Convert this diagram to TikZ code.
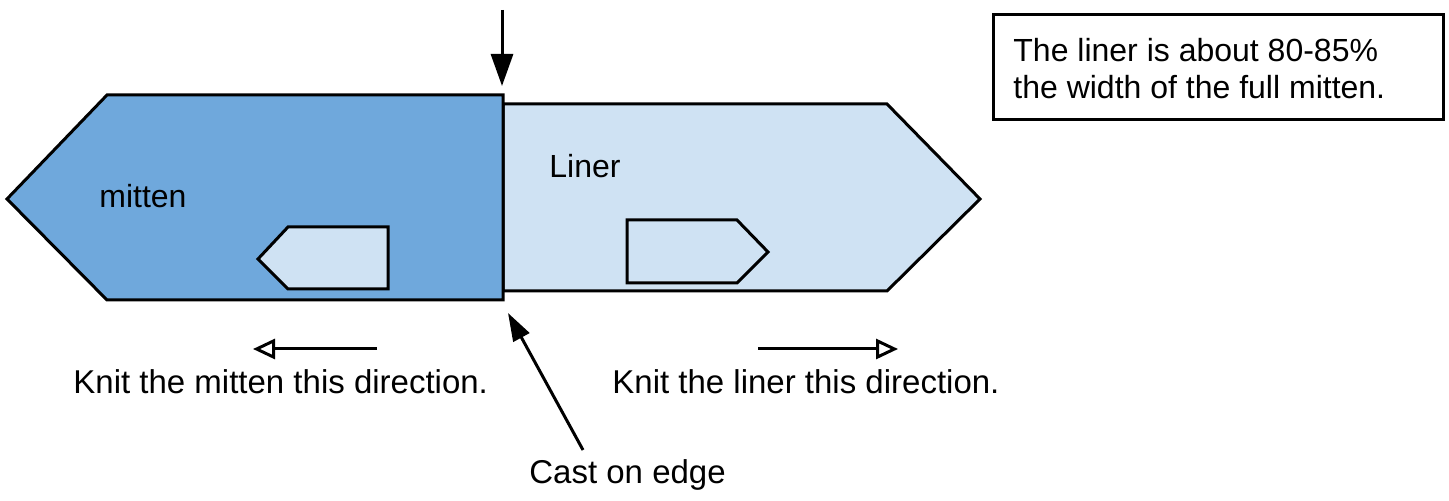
\documentclass[tikz,border=0pt]{standalone}
\usepackage{fontspec}
\setmainfont{Liberation Sans}
\usetikzlibrary{arrows.meta}
\definecolor{mittenblue}{HTML}{6FA8DC}
\definecolor{linerblue}{HTML}{CFE2F3}
\tikzset{
  font={\fontsize{16pt}{18.5pt}\selectfont}}

\begin{document}
\begin{tikzpicture}[x=0.5pt,y=-0.5pt]
\tikzstyle{every node}+=[inner sep=0pt]
\tikzstyle{outline}=[draw=black,line width=1.5pt,line join=miter]
\tikzstyle{caption}=[anchor=base west,font={\fontsize{16.5pt}{19pt}\selectfont}]
\tikzstyle{solidarrow}=[line width=1.5pt,-{Triangle[length=16pt,width=11pt]}]
\tikzstyle{slantarrow}=[line width=1.5pt,-{Triangle[length=14pt,width=9pt]}]
\tikzstyle{openarrow}=[line width=1.5pt,-{Triangle[open,length=11pt,width=10pt,fill=white]}]
\useasboundingbox (0,0) rectangle (1449,501);
% liner piece
\draw [outline,fill=linerblue] (503,104) -- (887,104) -- (980,199) -- (887,291) -- (503,291) -- cycle;
% mitten piece
\draw [outline,fill=mittenblue] (503,95) -- (107,95) -- (7,199) -- (107,300) -- (503,300) -- cycle;
% small pieces
\draw [outline,fill=linerblue] (388,227) -- (288,227) -- (258,259) -- (288,289) -- (388,289) -- cycle;
\draw [outline,fill=linerblue] (627,220) -- (737,220) -- (768,252) -- (737,283) -- (627,283) -- cycle;
% labels
\node [anchor=base west] (mittenlabel) at (99,208) {mitten};
\node [anchor=base west] (linerlabel) at (549,178) {Liner};
\node [caption] (knitmitten) at (73,394) {Knit the mitten this direction.};
\node [caption] (knitliner) at (612,394) {Knit the liner this direction.};
\node [caption] (caston) at (529,483) {Cast on edge};
% arrows
\coordinate (topstart) at (502,10);
\coordinate (toptip) at (502,86);
\draw [solidarrow] (topstart) -- (toptip);
\coordinate (casttail) at (583,450);
\coordinate (casttip) at (508,313);
\draw [slantarrow] (casttail) -- (casttip);
\coordinate (mittail) at (377,349);
\coordinate (mittip) at (253,349);
\draw [openarrow] (mittail) -- (mittip);
\coordinate (lintail) at (758,349);
\coordinate (lintip) at (898,349);
\draw [openarrow] (lintail) -- (lintip);
% note
\node [draw,line width=1.5pt,minimum width=225pt,minimum height=52.5pt,anchor=north west] (notebox) at (992,13) {};
\node [anchor=north west,align=left] (notetext) at (1013,38) {The liner is about 80-85\%\\the width of the full mitten.};
\end{tikzpicture}
\end{document}
